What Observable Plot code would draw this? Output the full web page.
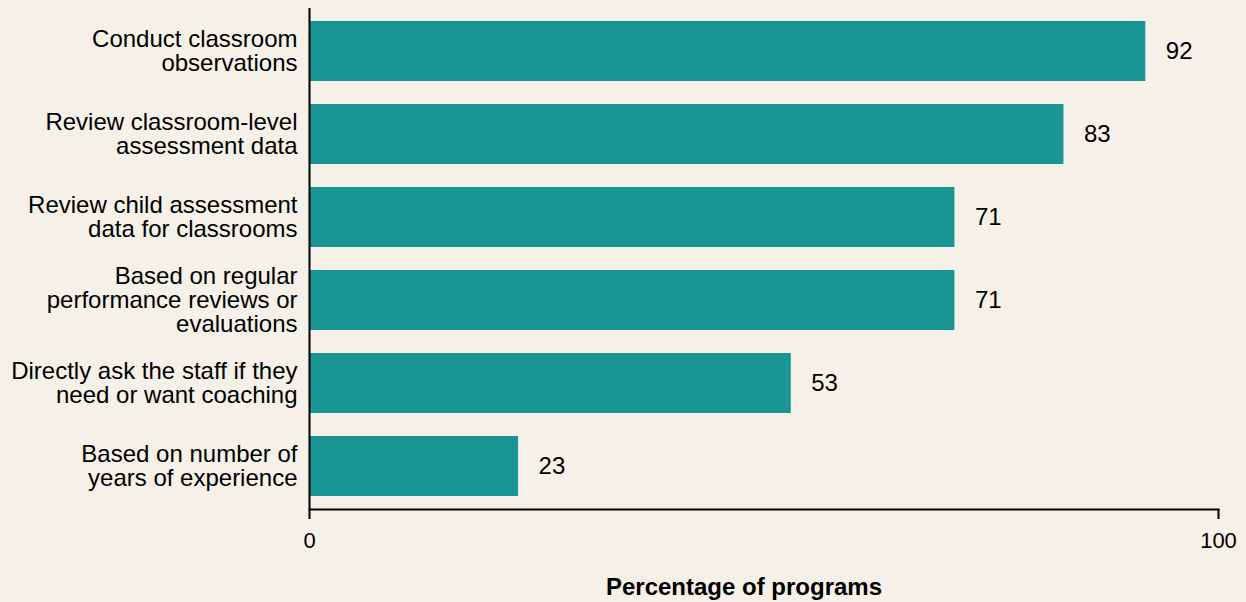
<!DOCTYPE html>
<html>
<head>
<meta charset="utf-8">
<script src="https://cdn.jsdelivr.net/npm/d3@7"></script>
<script src="https://cdn.jsdelivr.net/npm/@observablehq/plot@0.6"></script>
<style>
  html, body { margin: 0; padding: 0; background: #f5f0e8; }
  #chart svg { display: block; }
</style>
</head>
<body>
<div id="chart"></div>
<script>
const categories = [
  "Conduct classroom\nobservations",
  "Review classroom-level\nassessment data",
  "Review child assessment\ndata for classrooms",
  "Based on regular\nperformance reviews or\nevaluations",
  "Directly ask the staff if they\nneed or want coaching",
  "Based on number of\nyears of experience"
];
const values = [92, 83, 71, 71, 53, 23];
const xTicks = [0, 100];
const xTitle = "Percentage of programs";

const data = categories.map((c, i) => ({category: c, value: values[i]}));

const chart = Plot.plot({
  width: 1246,
  height: 602,
  marginLeft: 309,
  marginRight: 28,
  marginTop: 8,
  marginBottom: 93,
  style: {background: "#f5f0e8", fontFamily: "Liberation Sans, Arial, sans-serif", color: "#000"},
  x: {domain: [0, 100], range: [309, 1218]},
  y: {domain: categories, paddingInner: 0.28, paddingOuter: 0.14, align: 0.5},
  marks: [
    Plot.barX(data, {x: "value", y: "category", fill: "#199694"}),
    Plot.text(data, {x: "value", y: "category", text: d => String(d.value), textAnchor: "start", dx: 20, fontSize: 24, fill: "#000"}),
    Plot.axisY({tickSize: 0, tickPadding: 12, fontSize: 24, lineHeight: 1.0, label: null, textAnchor: "end"}),
    Plot.axisX({ticks: xTicks, tickSize: 10, tickPadding: 13, fontSize: 22, strokeWidth: 2, label: null, tickFormat: d => String(d)}),
    Plot.ruleX([0], {stroke: "#000", strokeWidth: 2}),
    Plot.frame({anchor: "bottom", stroke: "#000", strokeWidth: 2}),
    Plot.text([xTitle], {frameAnchor: "bottom", text: d => d, dy: 85, dx: -20, fontSize: 24, fontWeight: "bold", fill: "#000"})
  ]
});
document.getElementById("chart").appendChild(chart);
</script>
</body>
</html>
